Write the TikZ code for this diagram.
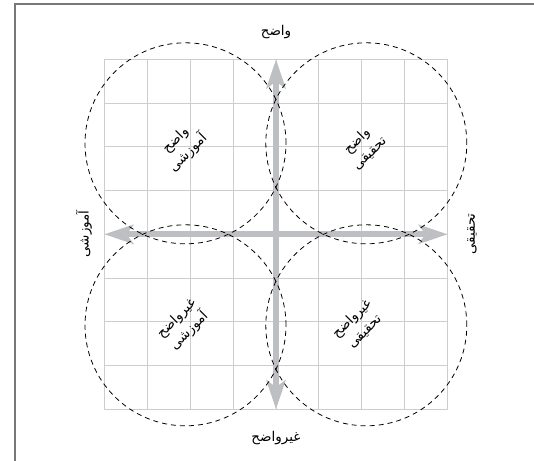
\documentclass[tikz,border=0pt]{standalone}
\usepackage{fontspec}
\newfontfamily\arabicfont[Script=Arabic]{DejaVu Sans}
\TeXXeTstate=1
\usetikzlibrary{arrows.meta}
\definecolor{gridgray}{RGB}{205,205,205}
\definecolor{axisgray}{RGB}{190,191,195}
\definecolor{framegray}{RGB}{120,120,120}
\tikzset{
  gridline/.style={draw=gridgray, line width=1pt},
  axisline/.style={draw=axisgray, line width=6pt,
    {Stealth[length=29pt,width=19pt,inset=7pt]}-{Stealth[length=29pt,width=19pt,inset=7pt]}},
  dashcircle/.style={draw=black, line width=0.8pt, dash pattern=on 5pt off 4pt},
  lbl/.style={font=\arabicfont\fontsize{13.5}{18}\selectfont, inner sep=0pt, align=center},
  framebox/.style={draw=framegray, line width=1.3pt}
}
\begin{document}
\begin{tikzpicture}[x=1pt,y=-1pt]
\useasboundingbox (0,0) rectangle (534,460);
\fill[white] (0,0) rectangle (534,460);
% frame (top and left edges)
\draw[framebox] (15,470) -- (15,4) -- (540,4);
% grid
\foreach \i in {0,...,8}{
  \draw[gridline] ({104.3+\i*42.925},59.3) -- ({104.3+\i*42.925},409.3);
  \draw[gridline] (104.3,{59.3+\i*43.75}) -- (447.7,{59.3+\i*43.75});
}
% axes
\coordinate (C) at (276,234.3);
\coordinate (T) at (276,59.3);
\coordinate (B) at (276,409.3);
\coordinate (L) at (104.3,234.3);
\coordinate (R) at (447.7,234.3);
\draw[axisline] (L) -- (R);
\draw[axisline] (T) -- (B);
% circles
\node[dashcircle, circle, minimum size=201pt, inner sep=0pt] (c1) at (185.5,143.3) {};
\node[dashcircle, circle, minimum size=201pt, inner sep=0pt] (c2) at (366.3,143.3) {};
\node[dashcircle, circle, minimum size=201pt, inner sep=0pt] (c3) at (185.5,325.3) {};
\node[dashcircle, circle, minimum size=201pt, inner sep=0pt] (c4) at (366.3,325.3) {};
% axis labels
\node[lbl] (top) at (276,32) {\beginR واضح\endR};
\node[lbl] (bottom) at (276,438) {\beginR غیرواضح\endR};
\node[lbl, rotate=90] (left) at (84,234) {\beginR آموزشی\endR};
\node[lbl, rotate=90] (right) at (472,234) {\beginR تحقیقی\endR};
% quadrant labels
\node[lbl, rotate=45] (q1) at (182,147) {\beginR واضح\endR\\\beginR آموزشی\endR};
\node[lbl, rotate=45] (q2) at (363,147) {\beginR واضح\endR\\\beginR تحقیقی\endR};
\node[lbl, rotate=45] (q3) at (183,325) {\beginR غیرواضح\endR\\\beginR آموزشی\endR};
\node[lbl, rotate=45] (q4) at (358,325) {\beginR غیرواضح\endR\\\beginR تحقیقی\endR};
\end{tikzpicture}
\end{document}
